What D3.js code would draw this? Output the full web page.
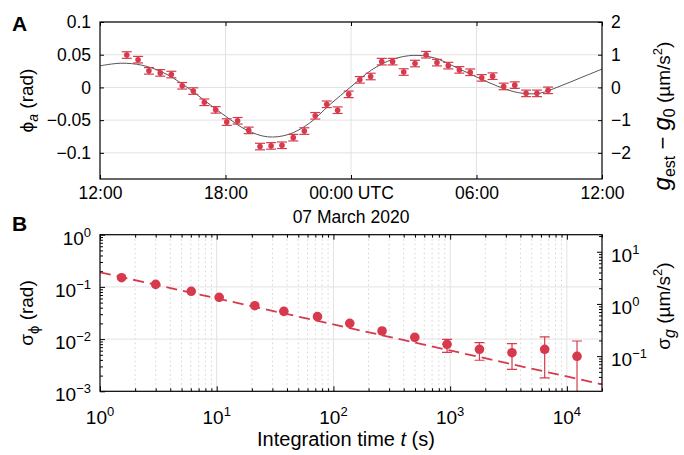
<!DOCTYPE html>
<html>
<head>
<meta charset="utf-8">
<script src="https://d3js.org/d3.v7.min.js"></script>
<style>
body { margin: 0; background: #fff; }
svg { font-family: "Liberation Sans", Arial, sans-serif; }
.grid line { stroke: #e2e2e2; stroke-width: 1; }
.minor line { stroke: #d2d2d2; stroke-width: 1; stroke-dasharray: 1.5 3; }
.frame { fill: none; stroke: #000; stroke-width: 1.2; }
.ax path { display: none; }
.ax line { stroke: #000; }
.ax text { fill: #000; font-family: "Liberation Sans", Arial, sans-serif; }
</style>
</head>
<body>
<svg id="fig" width="684" height="455"></svg>
<script>
// panel A: phase time series (hours after 12:00 UTC, 6 March 2020)
var phaseHours = [1.28, 1.82, 2.34, 2.88, 3.41, 3.93, 4.46, 4.99, 5.53, 6.06,
  6.58, 7.11, 7.65, 8.18, 8.70, 9.24, 9.77, 10.29, 10.84, 11.36,
  11.89, 12.42, 12.94, 13.47, 13.99, 14.52, 15.06, 15.59, 16.11, 16.65,
  17.18, 17.70, 18.25, 18.77, 19.30, 19.83, 20.37, 20.89, 21.42];
var phaseRad = [0.0495, 0.0424, 0.0253, 0.0222, 0.0197, 0.0025, -0.0056, -0.0227, -0.0343, -0.053,
  -0.051, -0.0657, -0.0904, -0.0894, -0.0884, -0.0768, -0.0667, -0.0434, -0.0258, -0.0348,
  -0.0106, 0.0116, 0.0167, 0.0394, 0.0394, 0.0235, 0.0365, 0.05, 0.0379, 0.0333,
  0.0268, 0.0232, 0.0146, 0.0172, 0.0015, 0.0035, -0.0091, -0.0091, -0.0045];
var phaseErr = [0.005, 0.005, 0.005, 0.005, 0.005, 0.005, 0.005, 0.005, 0.005, 0.005,
  0.005, 0.005, 0.005, 0.005, 0.005, 0.005, 0.005, 0.005, 0.005, 0.005,
  0.005, 0.005, 0.005, 0.005, 0.005, 0.005, 0.005, 0.005, 0.005, 0.005,
  0.005, 0.005, 0.005, 0.005, 0.005, 0.005, 0.005, 0.005, 0.005];
// tide model curve
var modelHours = [0, 1, 2, 3, 4, 5, 6, 7, 8, 9, 10, 11, 12, 13, 14, 15, 16, 17, 18, 19, 20, 21, 22, 23, 24];
var modelRad = [0.033, 0.037, 0.034, 0.023, 0.004, -0.020, -0.044, -0.065, -0.0755, -0.072, -0.055, -0.026,
  0.001, 0.027, 0.043, 0.049, 0.045, 0.031, 0.016, 0.002, -0.008, -0.009, 0.002, 0.015, 0.028];
var timeTicks = ["2020-03-06T12:00Z", "2020-03-06T18:00Z", "2020-03-07T00:00Z", "2020-03-07T06:00Z", "2020-03-07T12:00Z"];
var phiTicks = [-0.1, -0.05, 0, 0.05, 0.1];
var gTicks = [-2, -1, 0, 1, 2];

// panel B: Allan deviation
var tau = [1.53, 3.0, 6.05, 10.5, 21.2, 37.6, 73, 138, 261, 498, 941, 1783, 3388, 6457, 12220];
var sigmaPhi = [0.150, 0.112, 0.0824, 0.0632, 0.0436, 0.034, 0.0269, 0.0201, 0.0143, 0.0108,
  0.00795, 0.00637, 0.00549, 0.00637, 0.00468];
var sigmaLo = [null, null, null, null, null, null, null, null, null, null,
  0.00559, 0.00393, 0.00264, 0.0018, 0.0002];
var sigmaHi = [null, null, null, null, null, null, null, null, null, null,
  0.0099, 0.00853, 0.00816, 0.011, 0.0092];
var fitTau = [1, 20000];
var fitSigma = [0.19, 0.00136];
var tauTicks = [1, 10, 100, 1000, 10000];
var sigTicks = [0.001, 0.01, 0.1, 1];
var sigGTicks = [0.1, 1, 10];

var red = "#d63a4c";
var svg = d3.select("#fig");

function sup(sel, base, exp, supSize) {
  sel.text(base);
  sel.append("tspan").attr("dy", -8).style("font-size", supSize + "px").text(exp);
}
function supExp(v) { return String(Math.round(Math.log10(v))).replace("-", "\u2212"); }

// ================= panel A =================
var A = {l: 100, r: 602, t: 22, b: 179};
var t0 = Date.UTC(2020, 2, 6, 12);
function hourDate(h) { return new Date(t0 + h * 3600e3); }
var xA = d3.scaleUtc().domain([hourDate(0), hourDate(24)]).range([A.l, A.r]);
var yA = d3.scaleLinear().domain([-0.14, 0.1]).range([A.b, A.t]);
var gA = d3.scaleLinear().domain([-2.8, 2]).range([A.b, A.t]);
var tickDates = timeTicks.map(function(s) { return new Date(s); });

var gridA = svg.append("g").attr("class", "grid");
gridA.selectAll(".v").data(tickDates.slice(1, -1)).join("line")
  .attr("x1", function(d) { return xA(d); }).attr("x2", function(d) { return xA(d); })
  .attr("y1", A.t).attr("y2", A.b);
gridA.selectAll(".h").data(phiTicks).join("line")
  .attr("x1", A.l).attr("x2", A.r)
  .attr("y1", function(d) { return yA(d); }).attr("y2", function(d) { return yA(d); });

var fmtTime = function(d) {
  return d.getUTCHours() === 0 ? "00:00 UTC" : d3.utcFormat("%H:%M")(d);
};
svg.append("g").attr("class", "ax").attr("transform", "translate(0," + A.b + ")")
  .call(d3.axisBottom(xA).tickValues(tickDates).tickSize(-4).tickPadding(8).tickFormat(fmtTime))
  .selectAll("text").style("font-size", "17.5px");
svg.append("g").attr("class", "ax").attr("transform", "translate(0," + A.t + ")")
  .call(d3.axisTop(xA).tickValues(tickDates).tickSize(-4).tickFormat(""));
svg.append("g").attr("class", "ax").attr("transform", "translate(" + A.l + ",0)")
  .call(d3.axisLeft(yA).tickValues(phiTicks).tickSize(-4).tickPadding(9)
    .tickFormat(function(d) { return d === 0 ? "0" : String(d).replace("-", "\u2212"); }))
  .selectAll("text").style("font-size", "17.5px");
svg.append("g").attr("class", "ax").attr("transform", "translate(" + A.r + ",0)")
  .call(d3.axisRight(gA).tickValues(gTicks).tickSize(-4).tickPadding(9)
    .tickFormat(function(d) { return String(d).replace("-", "\u2212"); }))
  .selectAll("text").style("font-size", "17.5px");

svg.append("text").attr("x", xA(tickDates[2])).attr("y", 223)
  .attr("text-anchor", "middle").style("font-size", "17.5px").text("07 March 2020");

// model curve
var modelLine = d3.line()
  .x(function(d, i) { return xA(hourDate(modelHours[i])); })
  .y(function(d) { return yA(d); })
  .curve(d3.curveCatmullRom);
svg.append("path").datum(modelRad).attr("d", modelLine)
  .attr("fill", "none").attr("stroke", "#555").attr("stroke-width", 1);

// error bars + points
var ptsA = svg.append("g");
phaseRad.forEach(function(v, i) {
  var x = xA(hourDate(phaseHours[i])), y1 = yA(v - phaseErr[i]), y2 = yA(v + phaseErr[i]);
  ptsA.append("line").attr("x1", x).attr("x2", x).attr("y1", y1).attr("y2", y2)
    .attr("stroke", red).attr("stroke-width", 1.2);
  [y1, y2].forEach(function(y) {
    ptsA.append("line").attr("x1", x - 5).attr("x2", x + 5).attr("y1", y).attr("y2", y)
      .attr("stroke", red).attr("stroke-width", 1.2);
  });
  ptsA.append("circle").attr("cx", x).attr("cy", yA(v)).attr("r", 2.8).attr("fill", red);
});

svg.append("rect").attr("class", "frame")
  .attr("x", A.l).attr("y", A.t).attr("width", A.r - A.l).attr("height", A.b - A.t);

// axis titles A
var lblA = svg.append("text").attr("transform", "translate(33," + ((A.t + A.b) / 2) + ") rotate(-90)")
  .attr("text-anchor", "middle").style("font-size", "19px");
lblA.append("tspan").text("\u03d5");
lblA.append("tspan").attr("dy", 5).style("font-style", "italic").style("font-size", "14px").text("a");
lblA.append("tspan").attr("dy", -5).text(" (rad)");

var lblG = svg.append("text").attr("transform", "translate(670,116) rotate(-90)")
  .attr("text-anchor", "middle").style("font-size", "19px");
lblG.append("tspan").style("font-style", "italic").style("font-size", "24px").text("g");
lblG.append("tspan").attr("dy", 5).style("font-size", "16px").text("est");
lblG.append("tspan").attr("dy", -5).style("font-size", "22px").text(" \u2212 ");
lblG.append("tspan").style("font-style", "italic").style("font-size", "24px").text("g");
lblG.append("tspan").attr("dy", 5).style("font-size", "16px").text("0");
lblG.append("tspan").attr("dy", -5).text(" (\u00b5m/s");
lblG.append("tspan").attr("dy", -8).style("font-size", "13px").text("2");
lblG.append("tspan").attr("dy", 8).text(")");

svg.append("text").attr("x", 12).attr("y", 31).style("font-size", "21px")
  .style("font-weight", "bold").text("A");

// ================= panel B =================
var B = {l: 100, r: 602, t: 234.7, b: 391.3};
var xB = d3.scaleLog().domain([1, 20000]).range([B.l, B.r]);
var yB = d3.scaleLog().domain([0.001, 1]).range([B.b, B.t]);
var gB = d3.scaleLog().domain([0.0212, 21.2]).range([B.b, B.t]);

var minorX = xB.ticks().filter(function(d) { return tauTicks.indexOf(d) < 0; });
svg.append("g").attr("class", "minor").selectAll("line").data(minorX).join("line")
  .attr("x1", function(d) { return xB(d); }).attr("x2", function(d) { return xB(d); })
  .attr("y1", B.t).attr("y2", B.b);
var gridB = svg.append("g").attr("class", "grid");
gridB.selectAll(".v").data(tauTicks.slice(1)).join("line")
  .attr("x1", function(d) { return xB(d); }).attr("x2", function(d) { return xB(d); })
  .attr("y1", B.t).attr("y2", B.b);
gridB.selectAll(".h").data(sigTicks.slice(1, -1)).join("line")
  .attr("x1", B.l).attr("x2", B.r)
  .attr("y1", function(d) { return yB(d); }).attr("y2", function(d) { return yB(d); });

// ticks (major + minor)
svg.append("g").attr("class", "ax").attr("transform", "translate(0," + B.b + ")")
  .call(d3.axisBottom(xB).tickValues(xB.ticks()).tickFormat("")
    .tickSize(-1))
  .selectAll("line").attr("y2", function(d) { return tauTicks.indexOf(d) >= 0 ? -5 : -3; });
svg.append("g").attr("class", "ax").attr("transform", "translate(0," + B.t + ")")
  .call(d3.axisTop(xB).tickValues(xB.ticks()).tickFormat("").tickSize(-1))
  .selectAll("line").attr("y2", function(d) { return tauTicks.indexOf(d) >= 0 ? 5 : 3; });
svg.append("g").attr("class", "ax").attr("transform", "translate(" + B.l + ",0)")
  .call(d3.axisLeft(yB).tickValues(yB.ticks()).tickFormat("").tickSize(-1))
  .selectAll("line").attr("x2", function(d) { return sigTicks.indexOf(d) >= 0 ? 5 : 3; });
svg.append("g").attr("class", "ax").attr("transform", "translate(" + B.r + ",0)")
  .call(d3.axisRight(gB).tickValues(gB.ticks()).tickFormat("").tickSize(-1))
  .selectAll("line").attr("x2", function(d) { return sigGTicks.indexOf(d) >= 0 ? -5 : -3; });

// tick labels with exponents
svg.append("g").selectAll("text").data(tauTicks).join("text")
  .attr("x", function(d) { return xB(d); }).attr("y", 424)
  .attr("text-anchor", "middle").style("font-size", "19px")
  .each(function(d) { sup(d3.select(this), "10", supExp(d), 13); });
svg.append("g").selectAll("text").data(sigTicks).join("text")
  .attr("x", 91).attr("y", function(d) { return yB(d) + 10; })
  .attr("text-anchor", "end").style("font-size", "19px")
  .each(function(d) { sup(d3.select(this), "10", supExp(d), 13); });
svg.append("g").selectAll("text").data(sigGTicks).join("text")
  .attr("x", 611).attr("y", function(d) { return gB(d) + 10; })
  .attr("text-anchor", "start").style("font-size", "19px")
  .each(function(d) { sup(d3.select(this), "10", supExp(d), 13); });

svg.append("clipPath").attr("id", "clipB").append("rect")
  .attr("x", B.l).attr("y", B.t).attr("width", B.r - B.l).attr("height", B.b - B.t);
var plotB = svg.append("g").attr("clip-path", "url(#clipB)");

// fitted white-noise line
plotB.append("path").datum(fitTau)
  .attr("d", d3.line().x(function(d) { return xB(d); })
    .y(function(d, i) { return yB(fitSigma[i]); }))
  .attr("fill", "none").attr("stroke", red).attr("stroke-width", 1.8)
  .attr("stroke-dasharray", "11 6");

tau.forEach(function(t, i) {
  var x = xB(t);
  if (sigmaLo[i] !== null) {
    var y1 = yB(sigmaLo[i]), y2 = yB(sigmaHi[i]);
    plotB.append("line").attr("x1", x).attr("x2", x).attr("y1", y1).attr("y2", y2)
      .attr("stroke", red).attr("stroke-width", 1.2);
    [y1, y2].forEach(function(y) {
      plotB.append("line").attr("x1", x - 5).attr("x2", x + 5).attr("y1", y).attr("y2", y)
        .attr("stroke", red).attr("stroke-width", 1.2);
    });
  }
  plotB.append("circle").attr("cx", x).attr("cy", yB(sigmaPhi[i])).attr("r", 4.8).attr("fill", red);
});

svg.append("rect").attr("class", "frame")
  .attr("x", B.l).attr("y", B.t).attr("width", B.r - B.l).attr("height", B.b - B.t);

// axis titles B
var lblS = svg.append("text").attr("transform", "translate(33," + ((B.t + B.b) / 2) + ") rotate(-90)")
  .attr("text-anchor", "middle").style("font-size", "19px");
lblS.append("tspan").text("\u03c3");
lblS.append("tspan").attr("dy", 6).style("font-size", "15px").text("\u03d5");
lblS.append("tspan").attr("dy", -6).text(" (rad)");

var lblSg = svg.append("text").attr("transform", "translate(670,306) rotate(-90)")
  .attr("text-anchor", "middle").style("font-size", "19px");
lblSg.append("tspan").text("\u03c3");
lblSg.append("tspan").attr("dy", 5).style("font-style", "italic").style("font-size", "16px").text("g");
lblSg.append("tspan").attr("dy", -5).text(" (\u00b5m/s");
lblSg.append("tspan").attr("dy", -8).style("font-size", "13px").text("2");
lblSg.append("tspan").attr("dy", 8).text(")");

var lblT = svg.append("text").attr("x", (B.l + B.r) / 2 - 5).attr("y", 446)
  .attr("text-anchor", "middle").style("font-size", "20px");
lblT.append("tspan").text("Integration time ");
lblT.append("tspan").style("font-style", "italic").text("t");
lblT.append("tspan").text(" (s)");

svg.append("text").attr("x", 12).attr("y", 231).style("font-size", "21px")
  .style("font-weight", "bold").text("B");
</script>
</body>
</html>
